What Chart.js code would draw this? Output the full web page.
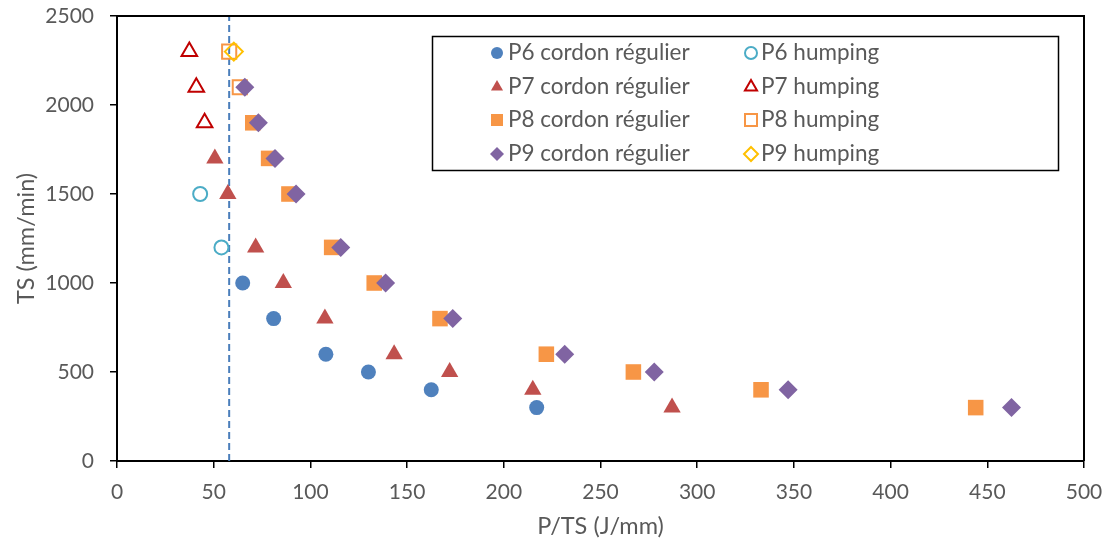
<!DOCTYPE html>
<html>
<head>
<meta charset="utf-8">
<script src="https://cdn.jsdelivr.net/npm/chart.js@4/dist/chart.umd.min.js"></script>
<style>
  html, body { margin: 0; padding: 0; background: #fff; }
  #wrap { width: 1107px; height: 547px; }
</style>
</head>
<body>
<div id="wrap"><canvas id="weld"></canvas></div>
<script>
// values: TS (mm/min) and P/TS (J/mm)
var p6RegTS = [1000, 800, 600, 500, 400, 300];
var p6RegPT = [65, 81, 108, 130, 162.5, 217];
var p6HumpTS = [1500, 1200];
var p6HumpPT = [43, 54];

var p7RegTS = [1700, 1500, 1200, 1000, 800, 600, 500, 400, 300];
var p7RegPT = [50.6, 57.3, 71.7, 86, 107.5, 143.3, 172, 215, 287];
var p7HumpTS = [2300, 2100, 1900];
var p7HumpPT = [37.4, 41, 45.3];

var p8RegTS = [1900, 1700, 1500, 1200, 1000, 800, 600, 500, 400, 300];
var p8RegPT = [70.2, 78.4, 88.9, 111, 133, 167, 222, 267, 333, 444];
var p8HumpTS = [2300, 2100];
var p8HumpPT = [58, 63.5];

var p9RegTS = [2100, 1900, 1700, 1500, 1200, 1000, 800, 600, 500, 400, 300];
var p9RegPT = [66.1, 73.1, 81.7, 92.6, 115.7, 138.9, 173.6, 231.5, 277.8, 347, 462.5];
var p9HumpTS = [2300];
var p9HumpPT = [60.4];

var limitPT = 58;   // dashed vertical limit

var xTicks = [0, 50, 100, 150, 200, 250, 300, 350, 400, 450, 500];
var yTicks = [0, 500, 1000, 1500, 2000, 2500];

function pts(xs, ys) {
    return xs.map(function (v, i) { return { x: v, y: ys[i] }; });
}

var FONT = "Lato";
var GREY = "#595959";

var series = [
    { label: "P6 cordon régulier", data: pts(p6RegPT, p6RegTS), style: "circle", color: "#4F81BD", fill: true, r: 7.5 },
    { label: "P6 humping", data: pts(p6HumpPT, p6HumpTS), style: "circle", color: "#4BACC6", fill: false, r: 7 },
    { label: "P7 cordon régulier", data: pts(p7RegPT, p7RegTS), style: "triangle", color: "#C0504D", fill: true, r: 10 },
    { label: "P7 humping", data: pts(p7HumpPT, p7HumpTS), style: "triangle", color: "#C00000", fill: false, r: 9 },
    { label: "P8 cordon régulier", data: pts(p8RegPT, p8RegTS), style: "rect", color: "#F79646", fill: true, r: 11 },
    { label: "P8 humping", data: pts(p8HumpPT, p8HumpTS), style: "rect", color: "#F79646", fill: false, r: 10 },
    { label: "P9 cordon régulier", data: pts(p9RegPT, p9RegTS), style: "rectRot", color: "#8064A2", fill: true, r: 9.5 },
    { label: "P9 humping", data: pts(p9HumpPT, p9HumpTS), style: "rectRot", color: "#FFC000", fill: false, r: 9 }
];

var datasets = series.map(function (s, i) {
    return {
        label: s.label,
        data: s.data,
        pointStyle: s.style,
        pointRadius: s.r,
        pointBackgroundColor: s.fill ? s.color : "rgba(255,255,255,0)",
        pointBorderColor: s.color,
        pointBorderWidth: s.fill ? 0 : 2,
        showLine: false,
        order: 20 - i
    };
});

datasets.push({
    label: "limit",
    data: [{ x: limitPT, y: 0 }, { x: limitPT, y: 2500 }],
    showLine: true,
    borderColor: "#4A7EBB",
    borderWidth: 2,
    borderDash: [7, 4],
    pointRadius: 0,
    order: 30
});

// small marker drawer for the legend
function marker(ctx, style, x, y, r, color, fill) {
    ctx.save();
    ctx.beginPath();
    if (style === "circle") {
        ctx.arc(x, y, r, 0, Math.PI * 2);
    } else if (style === "triangle") {
        ctx.moveTo(x, y - r);
        ctx.lineTo(x + r * 0.866, y + r * 0.5);
        ctx.lineTo(x - r * 0.866, y + r * 0.5);
        ctx.closePath();
    } else if (style === "rect") {
        var h = r * 0.75;
        ctx.rect(x - h, y - h, 2 * h, 2 * h);
    } else {
        ctx.moveTo(x, y - r);
        ctx.lineTo(x + r, y);
        ctx.lineTo(x, y + r);
        ctx.lineTo(x - r, y);
        ctx.closePath();
    }
    if (fill) {
        ctx.fillStyle = color;
        ctx.fill();
    } else {
        ctx.fillStyle = "#fff";
        ctx.fill();
        ctx.strokeStyle = color;
        ctx.lineWidth = 2;
        ctx.stroke();
    }
    ctx.restore();
}

var boxAndLegend = {
    id: "boxAndLegend",
    afterDraw: function (chart) {
        var ctx = chart.ctx;
        var a = chart.chartArea;
        ctx.save();
        // frame top and right
        ctx.strokeStyle = "#000";
        ctx.lineWidth = 2;
        ctx.beginPath();
        ctx.moveTo(a.left, a.top);
        ctx.lineTo(a.right, a.top);
        ctx.lineTo(a.right, a.bottom);
        ctx.stroke();

        // legend box
        ctx.fillStyle = "#fff";
        ctx.fillRect(432, 36, 626, 134);
        ctx.lineWidth = 1.5;
        ctx.strokeRect(432.5, 36.5, 626, 134);

        ctx.font = "22.5px " + FONT;
        ctx.fillStyle = GREY;
        ctx.textBaseline = "middle";
        var rows = [53, 87, 120, 154];
        series.forEach(function (s, i) {
            var col = i % 2, row = Math.floor(i / 2);
            var mx = col === 0 ? 497 : 751;
            var tx = col === 0 ? 508 : 761;
            var y = rows[row];
            var r = s.style === "circle" ? 6 : (s.style === "rect" ? 8 : 7);
            marker(ctx, s.style, mx, y, r, s.color, s.fill);
            ctx.fillStyle = GREY;
            ctx.fillText(s.label, tx, y);
        });
        ctx.restore();
    }
};

new Chart(document.getElementById("weld").getContext("2d"), {
    type: "scatter",
    data: { datasets: datasets },
    plugins: [boxAndLegend],
    options: {
        responsive: true,
        maintainAspectRatio: false,
        animation: false,
        layout: { padding: { top: 16, right: 23, left: 0, bottom: 0 } },
        plugins: {
            legend: { display: false },
            tooltip: { enabled: false }
        },
        scales: {
            x: {
                type: "linear",
                min: 0,
                max: 500,
                afterBuildTicks: function (scale) {
                    scale.ticks = xTicks.map(function (v) { return { value: v }; });
                },
                afterFit: function (scale) {
                    scale.height = 86;
                    scale.paddingLeft = 0;
                    scale.paddingRight = 0;
                },
                ticks: {
                    color: GREY, font: { family: FONT, size: 21 }, padding: 12, maxRotation: 0,
                    callback: function (v) { return String(v); }
                },
                grid: { drawOnChartArea: false, drawTicks: true, tickLength: 7, color: "#000", lineWidth: 1.5 },
                border: { display: true, color: "#000", width: 2 },
                title: {
                    display: true,
                    text: "P/TS (J/mm)",
                    color: GREY,
                    font: { family: FONT, size: 23.5 },
                    padding: { top: 4, bottom: 6 }
                }
            },
            y: {
                type: "linear",
                min: 0,
                max: 2500,
                afterBuildTicks: function (scale) {
                    scale.ticks = yTicks.map(function (v) { return { value: v }; });
                },
                afterFit: function (scale) {
                    scale.width = 117;
                    scale.paddingTop = 0;
                    scale.paddingBottom = 0;
                },
                ticks: {
                    color: GREY, font: { family: FONT, size: 21 }, padding: 16,
                    callback: function (v) { return String(v); }
                },
                grid: { drawOnChartArea: false, drawTicks: true, tickLength: 7, color: "#000", lineWidth: 1.5 },
                border: { display: true, color: "#000", width: 2 },
                title: {
                    display: true,
                    text: "TS (mm/min)",
                    color: GREY,
                    font: { family: FONT, size: 23.5 },
                    padding: { top: 12, bottom: 4 }
                }
            }
        }
    }
});
</script>
</body>
</html>
